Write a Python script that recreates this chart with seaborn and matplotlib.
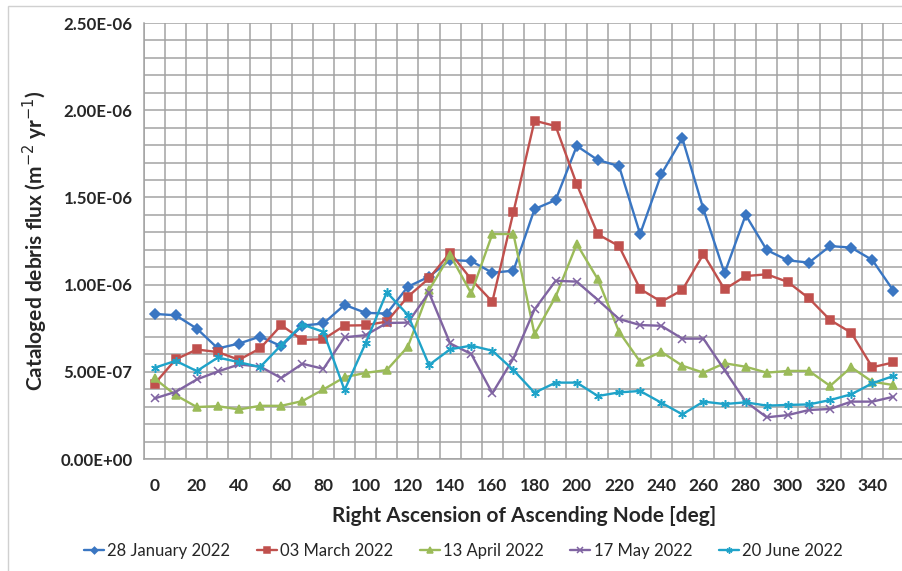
import matplotlib
matplotlib.use("Agg")
import matplotlib.pyplot as plt
import seaborn as sns
import pandas as pd
from matplotlib.ticker import FuncFormatter, MultipleLocator, FixedLocator
from matplotlib.patches import Rectangle

ra = [0, 10, 20, 30, 40, 50, 60, 70, 80, 90, 100, 110, 120, 130, 140, 150, 160, 170,
      180, 190, 200, 210, 220, 230, 240, 250, 260, 270, 280, 290, 300, 310, 320, 330, 340, 350]

# values in units of 1e-7 m^-2 yr^-1
jan = [8.32, 8.24, 7.48, 6.34, 6.62, 7.02, 6.47, 7.65, 7.77, 8.84, 8.38, 8.34, 9.88, 10.45,
       11.41, 11.35, 10.68, 10.80, 14.33, 14.85, 17.95, 17.14, 16.80, 12.90, 16.32, 18.39,
       14.32, 10.65, 13.99, 11.98, 11.39, 11.26, 12.21, 12.12, 11.41, 9.65]
mar = [4.31, 5.71, 6.28, 6.13, 5.69, 6.34, 7.67, 6.83, 6.87, 7.65, 7.67, 7.88, 9.31, 10.36,
       11.83, 10.30, 9.02, 14.16, 19.40, 19.09, 15.75, 12.88, 12.21, 9.75, 9.02, 9.69,
       11.75, 9.73, 10.49, 10.59, 10.15, 9.21, 7.97, 7.24, 5.26, 5.54]
apr = [4.62, 3.66, 2.98, 3.03, 2.84, 3.05, 3.05, 3.32, 3.99, 4.69, 4.94, 5.10, 6.44, 9.69,
       11.70, 9.50, 12.90, 12.90, 7.15, 9.31, 12.33, 10.30, 7.30, 5.58, 6.15, 5.35,
       4.95, 5.49, 5.29, 4.95, 5.05, 5.05, 4.19, 5.26, 4.43, 4.24]
may = [3.47, 3.85, 4.56, 5.02, 5.42, 5.30, 4.64, 5.46, 5.17, 6.98, 7.10, 7.80, 7.82, 9.54,
       6.63, 6.02, 3.77, 5.77, 8.58, 10.22, 10.17, 9.12, 8.03, 7.68, 7.64, 6.90,
       6.90, 5.10, 3.29, 2.39, 2.52, 2.81, 2.87, 3.29, 3.29, 3.57]
jun = [5.23, 5.63, 5.04, 5.82, 5.55, 5.27, 6.53, 7.71, 7.29, 3.95, 6.65, 9.56, 8.26, 5.39,
       6.29, 6.50, 6.21, 5.10, 3.80, 4.38, 4.38, 3.61, 3.82, 3.90, 3.23, 2.56,
       3.29, 3.15, 3.25, 3.06, 3.10, 3.13, 3.38, 3.71, 4.34, 4.76]

series_names = ["28 January 2022", "03 March 2022", "13 April 2022", "17 May 2022", "20 June 2022"]
series_vals = [jan, mar, apr, may, jun]
colors = ["#3A76C2", "#C0504D", "#9BBB59", "#8064A2", "#1FA3C9"]
markers = ["D", "s", "^", "x", (6, 2, 0)]
msizes = [4.8, 6.0, 6.2, 5.2, 6.2]

xtick_labels = [0, 20, 40, 60, 80, 100, 120, 140, 160, 180, 200, 220, 240, 260, 280, 300, 320, 340]

sns.set_style("white")
plt.rcParams['font.family'] = ['Lato', 'DejaVu Sans']

fig = plt.figure(figsize=(9.03, 5.71), dpi=100)
ax = fig.add_axes([144/903, 112/571, 760/903, 436/571])

for name, vals, c, m, ms in zip(series_names, series_vals, colors, markers, msizes):
    df = pd.DataFrame({"ra": ra, "flux": [v * 1e-7 for v in vals]})
    sns.lineplot(data=df, x="ra", y="flux", ax=ax, color=c, marker=m, markersize=ms,
                 markeredgecolor=c, markeredgewidth=1.1, linewidth=1.7, label=name)

ax.set_xlim(-5, 355)
ax.set_ylim(0, 2.5e-6)

gcol = "#A3A3A3"
ax.yaxis.set_major_locator(MultipleLocator(5e-7))
ax.yaxis.set_minor_locator(MultipleLocator(1e-7))
ax.xaxis.set_major_locator(FixedLocator(xtick_labels))
ax.xaxis.set_minor_locator(FixedLocator([-5 + 10 * i for i in range(37)]))
ax.grid(False)
ax.grid(True, which="minor", axis="both", color=gcol, linewidth=1.1)
ax.grid(True, which="major", axis="y", color=gcol, linewidth=1.1)
ax.set_axisbelow(True)

ax.yaxis.set_major_formatter(FuncFormatter(lambda v, p: f"{v:.2E}"))
ax.set_xticklabels([str(v) for v in xtick_labels])

ax.tick_params(axis="x", which="major", length=0, pad=14, labelsize=12.5)
ax.tick_params(axis="x", which="minor", length=4.3, color=gcol, width=1.1, direction="out")
ax.tick_params(axis="y", which="major", length=4.3, color=gcol, width=1.1, pad=4, labelsize=12.2)
ax.tick_params(axis="y", which="minor", length=0)
for lab in ax.get_xticklabels() + ax.get_yticklabels():
    lab.set_fontweight("bold")

for s in ["top", "right"]:
    ax.spines[s].set_visible(False)
for s in ["left", "bottom"]:
    ax.spines[s].set_color(gcol)
    ax.spines[s].set_linewidth(1.1)

ax.set_xlabel("Right Ascension of Ascending Node [deg]", fontsize=15, fontweight="bold", labelpad=8)
ax.set_ylabel("Cataloged debris flux (m$^{-2}$ yr$^{-1}$)", fontsize=15, fontweight="bold", labelpad=7)

if ax.legend_:
    ax.legend_.remove()
handles, labels = ax.get_legend_handles_labels()
fig.legend(handles, labels, loc="center", bbox_to_anchor=(0.513, 20/571), ncol=5, frameon=False,
           fontsize=12, handlelength=1.2, handletextpad=0.2, columnspacing=1.6, markerscale=0.7)

fig.add_artist(Rectangle((8/903, -0.1), 1.2, 1 - 6/571 + 0.1, transform=fig.transFigure,
                         fill=False, edgecolor="#D0D0D0", linewidth=1.0))

fig.savefig("out.png", dpi=100)
